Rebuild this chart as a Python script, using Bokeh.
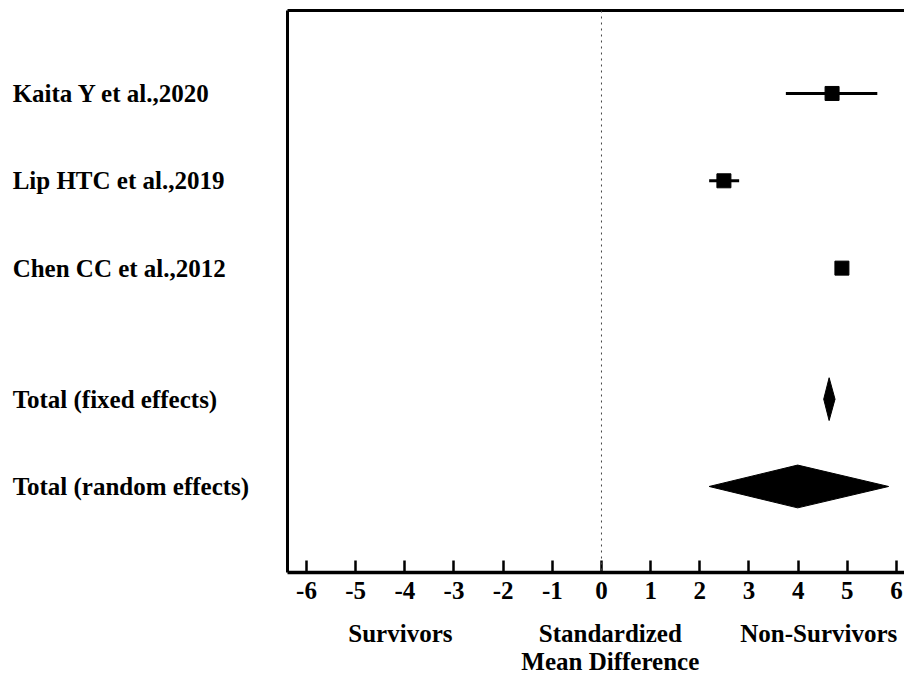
from bokeh.plotting import figure
from bokeh.layouts import row
from bokeh.models import Range1d, LinearAxis, Span, ColumnDataSource, FixedTicker
from bokeh.core.properties import value
from bokeh.embed import file_html
from bokeh.resources import INLINE

# ---- data ----
studies = ["Kaita Y et al.,2020", "Lip HTC et al.,2019", "Chen CC et al.,2012"]
study_rows = [0, 1, 2]
study_est = [4.69, 2.49, 4.89]
study_lo = [3.75, 2.19, 4.80]
study_hi = [5.61, 2.80, 4.98]

pooled = ["Total (fixed effects)", "Total (random effects)"]
pooled_rows = [3.5, 4.5]
pooled_est = [4.63, 3.99]
pooled_lo = [4.52, 2.19]
pooled_hi = [4.75, 5.84]

x_ticks = [-6, -5, -4, -3, -2, -1, 0, 1, 2, 3, 4, 5, 6]
bottom_texts = ["Survivors", "Standardized\nMean Difference", "Non-Survivors"]
bottom_pos = [-4.09, 0.18, 4.42]

FONT = "Liberation Serif"
FS = "25px"
H = 677
LEFT_W = 282
MAIN_W = 622
TOP = 10
BOTTOM = 105

y_range = Range1d(5.485, -0.95)

# ---- left label panel ----
pl = figure(width=LEFT_W, height=H, x_range=Range1d(0, 1), y_range=y_range,
            output_backend="svg", toolbar_location=None,
            x_axis_location=None, y_axis_location=None,
            min_border_left=0, min_border_right=0, min_border_top=TOP, min_border_bottom=BOTTOM)
pl.grid.visible = False
pl.outline_line_color = None
lab_src = ColumnDataSource(dict(x=[0.043] * 5, y=study_rows + pooled_rows, t=studies + pooled))
pl.text(x="x", y="y", text="t", source=lab_src, text_align="left", text_baseline="middle",
        text_font=value(FONT), text_font_style="bold", text_font_size=value(FS), text_color="black")

# ---- main forest plot ----
p = figure(width=MAIN_W, height=H, x_range=Range1d(-6.386, 6.163), y_range=y_range,
           output_backend="svg", toolbar_location=None,
           min_border_left=5, min_border_right=0, min_border_top=TOP, min_border_bottom=BOTTOM)
p.grid.visible = False
p.outline_line_color = None

xa = p.xaxis[0]
xa.ticker = FixedTicker(ticks=x_ticks)
xa.major_label_overrides = {t: str(t) for t in x_ticks}
xa.major_tick_in = 12
xa.major_tick_out = 0
xa.major_tick_line_width = 2.5
xa.major_tick_line_color = "black"
xa.minor_tick_line_color = None
xa.axis_line_width = 3.5
xa.axis_line_color = "black"
xa.major_label_text_font = FONT
xa.major_label_text_font_style = "bold"
xa.major_label_text_font_size = FS
xa.major_label_text_color = "black"
xa.major_label_standoff = 9

xb = LinearAxis(ticker=FixedTicker(ticks=bottom_pos),
                major_label_overrides={t: s for t, s in zip(bottom_pos, bottom_texts)},
                axis_line_color=None, major_tick_line_color=None, minor_tick_line_color=None,
                major_label_text_font=FONT, major_label_text_font_style="bold",
                major_label_text_font_size=FS, major_label_text_color="black",
                major_label_text_line_height=1.05,
                major_label_standoff=12)
p.add_layout(xb, "below")

ya = p.yaxis[0]
ya.ticker = FixedTicker(ticks=[])
ya.major_tick_line_color = None
ya.minor_tick_line_color = None
ya.axis_line_width = 3
ya.axis_line_color = "black"

top = LinearAxis(ticker=FixedTicker(ticks=[]), axis_line_width=3, axis_line_color="black",
                 major_tick_line_color=None, minor_tick_line_color=None)
p.add_layout(top, "above")

p.add_layout(Span(location=0, dimension="height", line_dash="dotted", line_width=1, line_color="#444444"))

src = ColumnDataSource(dict(row=study_rows, est=study_est, lo=study_lo, hi=study_hi))
p.segment(x0="lo", y0="row", x1="hi", y1="row", source=src, line_width=3, line_color="black")
p.scatter(x="est", y="row", source=src, marker="square", size=14, fill_color="black", line_color="black")

h = 0.245
xs = [[lo, est, hi, est] for lo, est, hi in zip(pooled_lo, pooled_est, pooled_hi)]
ys = [[r, r - h, r, r + h] for r in pooled_rows]
p.patches(xs=xs, ys=ys, fill_color="black", line_color="black", line_width=1)

layout = row(pl, p, spacing=0)
open("out.html", "w").write(file_html(layout, INLINE))
